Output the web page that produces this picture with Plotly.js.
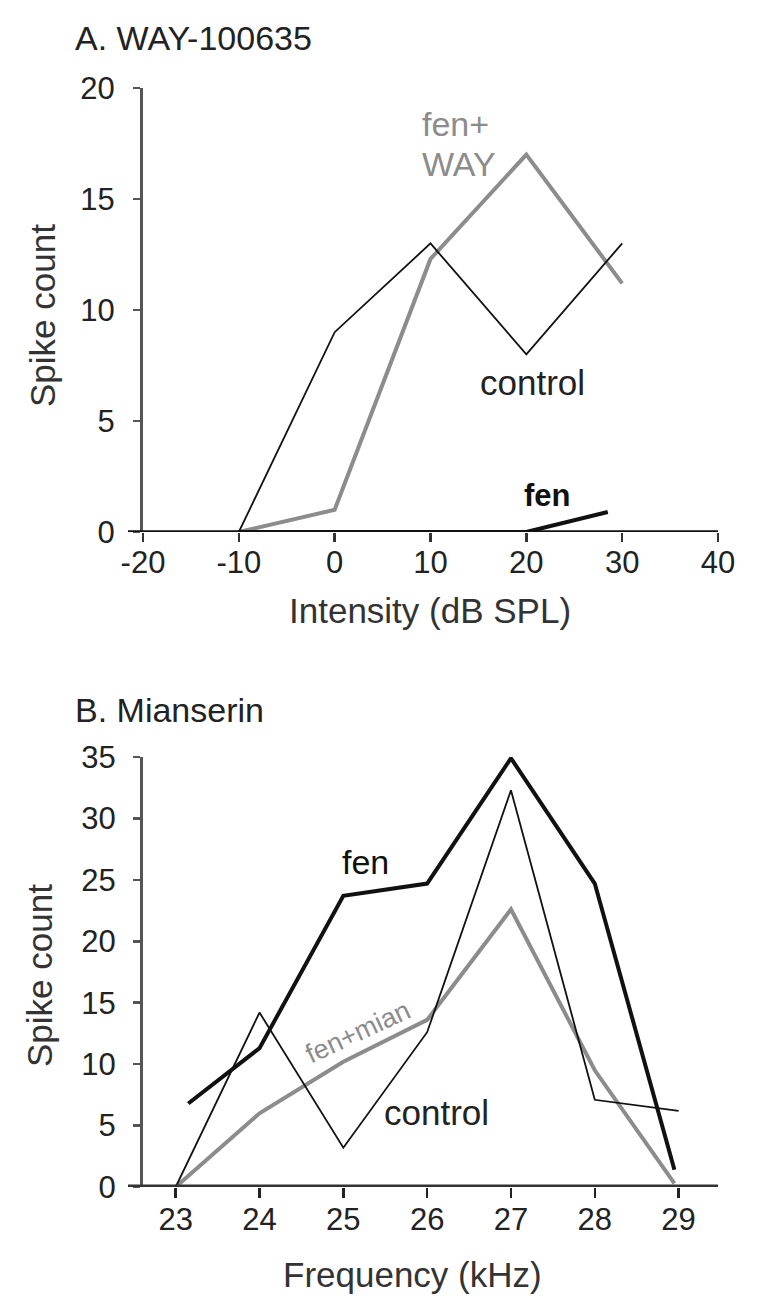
<!DOCTYPE html>
<html>
<head>
<meta charset="utf-8">
<script src="https://cdn.plot.ly/plotly-3.0.1.min.js"></script>
<style>html,body{margin:0;padding:0;background:#fff;}#chart{width:758px;height:1307px;}</style>
</head>
<body>
<div id="chart"></div>
<script>
// Panel A: WAY-100635 (spike count vs intensity)
const intensity = [-10, 0, 10, 20, 30];
const controlA = [0, 9, 13, 8, 13];
const fenWayA = [0, 1, 12.3, 17, 11.2];
const fenAX = [-10, 0, 10, 20, 28.5];
const fenA = [0, 0, 0, 0, 0.9];
const intensityTicks = [-20, -10, 0, 10, 20, 30, 40];
const countTicksA = [0, 5, 10, 15, 20];

// Panel B: Mianserin (spike count vs frequency)
const frequency = [23, 24, 25, 26, 27, 28, 29];
const controlB = [0, 14.2, 3.2, 12.6, 32.3, 7.1, 6.2];
const fenBX = [23.15, 24, 25, 26, 27, 28, 28.95];
const fenB = [6.8, 11.3, 23.7, 24.7, 34.9, 24.7, 1.4];
const mianBX = [23, 24, 25, 26, 27, 28, 28.95];
const fenMianB = [0, 6, 10.2, 13.6, 22.6, 9.5, 0.3];
const frequencyTicks = [23, 24, 25, 26, 27, 28, 29];
const countTicksB = [0, 5, 10, 15, 20, 25, 30, 35];

const W = 758, H = 1307;
const px = v => v / W;
const py = v => 1 - v / H;

const BLACK = '#111111';
const GRAY = '#8c8c8c';
const FONT = 'Liberation Sans, Arial, sans-serif';

const traces = [
  {x: intensity, y: fenWayA, xaxis: 'x', yaxis: 'y', mode: 'lines', line: {color: GRAY, width: 4}, name: 'fen+WAY'},
  {x: fenAX, y: fenA, xaxis: 'x', yaxis: 'y', mode: 'lines', line: {color: BLACK, width: 4}, name: 'fen'},
  {x: intensity, y: controlA, xaxis: 'x', yaxis: 'y', mode: 'lines', line: {color: BLACK, width: 1.8}, name: 'control'},
  {x: mianBX, y: fenMianB, xaxis: 'x2', yaxis: 'y2', mode: 'lines', line: {color: GRAY, width: 4}, name: 'fen+mian'},
  {x: fenBX, y: fenB, xaxis: 'x2', yaxis: 'y2', mode: 'lines', line: {color: BLACK, width: 4}, name: 'fen'},
  {x: frequency, y: controlB, xaxis: 'x2', yaxis: 'y2', mode: 'lines', line: {color: BLACK, width: 1.8}, name: 'control'}
];

const tickFont = {family: FONT, size: 31, color: '#222'};

function ann(text, x, y, size, opts) {
  return Object.assign({text: text, xref: 'paper', yref: 'paper', x: px(x), y: py(y),
    xanchor: 'left', yanchor: 'middle', showarrow: false,
    font: {family: FONT, size: size, color: '#222'}}, opts || {});
}

const layout = {
  width: W, height: H,
  margin: {l: 0, r: 0, t: 0, b: 0},
  paper_bgcolor: '#fff', plot_bgcolor: 'rgba(0,0,0,0)',
  showlegend: false,
  font: {family: FONT, color: '#222'},
  xaxis: {
    domain: [px(143), px(718)], anchor: 'y', range: [-20, 40],
    tickvals: intensityTicks, ticktext: intensityTicks.map(String),
    ticks: 'outside', ticklen: 9, tickwidth: 2.5, tickcolor: '#333', ticklabelstandoff: -6,
    showline: false, showgrid: false, zeroline: false, tickfont: tickFont, automargin: false
  },
  yaxis: {
    domain: [py(532), py(88)], anchor: 'x', range: [0, 20],
    tickvals: countTicksA, ticktext: countTicksA.map(String),
    ticks: 'outside', ticklen: 7, tickwidth: 2.5, tickcolor: '#555', ticklabelstandoff: 12,
    showline: true, linecolor: '#555', linewidth: 3,
    showgrid: false, zeroline: false, tickfont: tickFont, automargin: false
  },
  xaxis2: {
    domain: [px(143), px(718)], anchor: 'y2', range: [22.61, 29.47],
    tickvals: frequencyTicks, ticktext: frequencyTicks.map(String),
    ticks: 'outside', ticklen: 10, tickwidth: 2.5, tickcolor: '#222', ticklabelstandoff: -5,
    showline: false, showgrid: false, zeroline: false, tickfont: tickFont, automargin: false
  },
  yaxis2: {
    domain: [py(1187), py(757)], anchor: 'x2', range: [0, 35],
    tickvals: countTicksB, ticktext: countTicksB.map(String),
    ticks: 'outside', ticklen: 7, tickwidth: 2.5, tickcolor: '#555', ticklabelstandoff: 11,
    showline: true, linecolor: '#555', linewidth: 3,
    showgrid: false, zeroline: false, tickfont: tickFont, automargin: false
  },
  shapes: [
    {type: 'line', xref: 'paper', yref: 'y', x0: px(128), x1: px(718), y0: 0, y1: 0, line: {color: '#111', width: 3.5}, layer: 'above'},
    {type: 'line', xref: 'paper', yref: 'y2', x0: px(128), x1: px(718), y0: 0, y1: 0, line: {color: '#333', width: 5}, layer: 'above'}
  ],
  annotations: [
    ann('A. WAY-100635', 73, 38, 34),
    ann('Spike count', 42, 316, 35, {textangle: -90, xanchor: 'center', font: {family: FONT, size: 35, color: '#333'}}),
    ann('Intensity (dB SPL)', 430, 610, 35, {xanchor: 'center', font: {family: FONT, size: 35, color: '#333'}}),
    ann('fen+', 420, 124, 34, {font: {family: FONT, size: 34, color: GRAY}}),
    ann('WAY', 420, 164, 34, {font: {family: FONT, size: 34, color: GRAY}}),
    ann('control', 478, 382, 35),
    ann('<b>fen</b>', 522, 496, 31, {font: {family: FONT, size: 31, color: '#111'}}),

    ann('B. Mianserin', 73, 710, 34),
    ann('Spike count', 40, 976, 35, {textangle: -90, xanchor: 'center', font: {family: FONT, size: 35, color: '#333'}}),
    ann('Frequency (kHz)', 412, 1274, 35, {xanchor: 'center', font: {family: FONT, size: 35, color: '#333'}}),
    ann('fen', 340, 862, 34, {font: {family: FONT, size: 34, color: '#111'}}),
    ann('control', 382, 1112, 35),
    ann('fen+mian', 358, 1032, 27, {textangle: -25, xanchor: 'center', font: {family: FONT, size: 27, color: GRAY}})
  ]
};

Plotly.newPlot('chart', traces, layout, {displayModeBar: false, staticPlot: true});
</script>
</body>
</html>
